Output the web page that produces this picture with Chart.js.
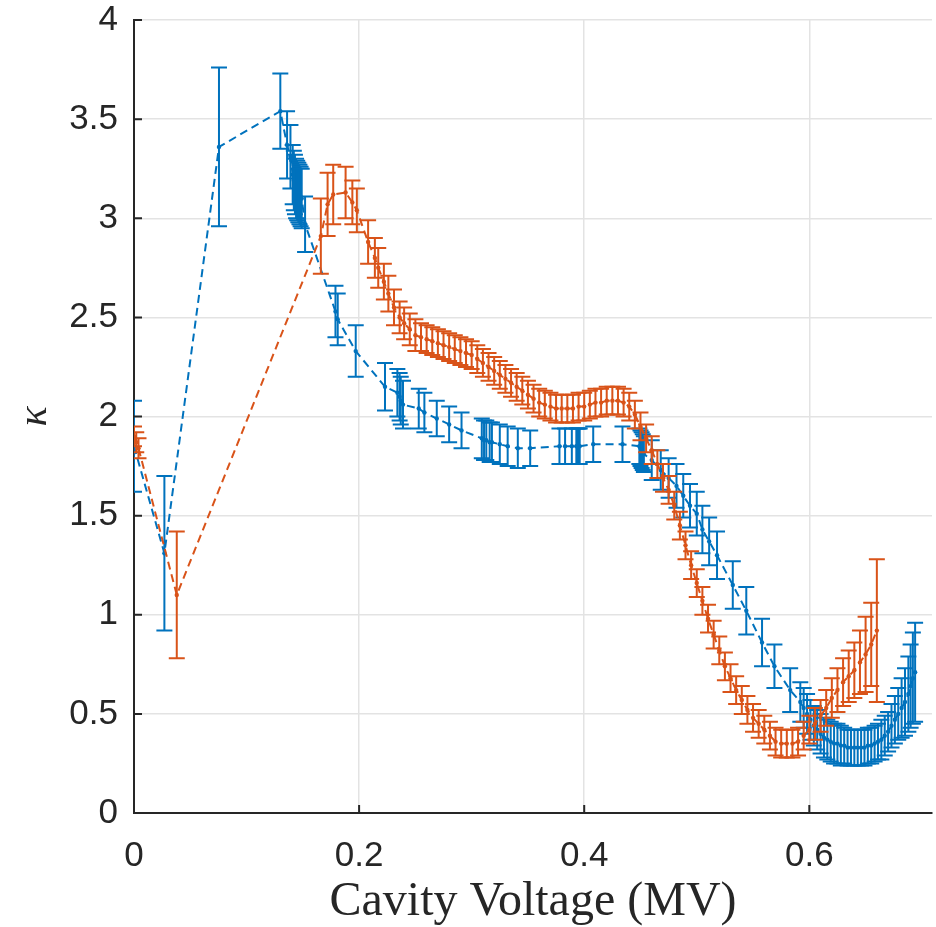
<!DOCTYPE html>
<html>
<head>
<meta charset="utf-8">
<script src="https://cdn.jsdelivr.net/npm/chart.js@4.4.1/dist/chart.umd.min.js"></script>
<style>
  html, body { margin: 0; padding: 0; background: #fff; }
</style>
</head>
<body>
<canvas id="kappaChart" width="936" height="927"></canvas>
<script>
// blue series (cavity 1)
const blueX = [0, 0.027, 0.0755, 0.130, 0.136, 0.139, 0.141, 0.142, 0.143, 0.144, 0.145, 0.146, 0.147, 0.148, 0.149, 0.152,
  0.179, 0.181, 0.197, 0.223, 0.234, 0.236, 0.237, 0.239, 0.253, 0.258, 0.269, 0.280, 0.291,
  0.309, 0.311, 0.313, 0.316, 0.318, 0.325, 0.332, 0.341, 0.352, 0.378, 0.383, 0.389, 0.393, 0.394, 0.395, 0.396,
  0.408, 0.434, 0.449, 0.450, 0.451, 0.452, 0.453, 0.460, 0.468, 0.475, 0.482, 0.488, 0.494, 0.500, 0.505, 0.511,
  0.518, 0.532, 0.544, 0.558, 0.569, 0.583, 0.592, 0.595,
  0.598, 0.601, 0.604, 0.607, 0.610, 0.613, 0.616, 0.619, 0.622, 0.625, 0.628, 0.631, 0.634, 0.637, 0.640, 0.643,
  0.646, 0.649, 0.652, 0.655, 0.658, 0.661, 0.664, 0.667, 0.670, 0.673, 0.676, 0.679, 0.682, 0.685, 0.688, 0.690,
  0.692, 0.694];
const blueY = [1.85, 1.31, 3.36, 3.54, 3.37, 3.31, 3.22, 3.19, 3.17, 3.15, 3.14, 3.13, 3.12, 3.11, 3.10, 2.97,
  2.53, 2.49, 2.33, 2.15, 2.12, 2.10, 2.08, 2.06, 2.04, 2.02, 1.99, 1.96, 1.93,
  1.89, 1.88, 1.88, 1.87, 1.87, 1.86, 1.85, 1.84, 1.84, 1.85, 1.85, 1.85, 1.85, 1.85, 1.85, 1.85,
  1.86, 1.86, 1.85, 1.84, 1.83, 1.82, 1.81, 1.78, 1.73, 1.69, 1.65, 1.60, 1.55, 1.51, 1.43, 1.37,
  1.30, 1.15, 1.02, 0.86, 0.74, 0.62, 0.56, 0.53,
  0.50, 0.47, 0.44, 0.42, 0.40, 0.38, 0.37, 0.36, 0.35, 0.35, 0.34, 0.34, 0.33, 0.33, 0.33, 0.33,
  0.33, 0.33, 0.34, 0.34, 0.35, 0.36, 0.37, 0.39, 0.41, 0.44, 0.47, 0.50, 0.53, 0.56, 0.60, 0.64,
  0.68, 0.71];
const blueErr = [0.23, 0.39, 0.40, 0.19, 0.17, 0.16, 0.15, 0.15, 0.15, 0.15, 0.15, 0.15, 0.15, 0.15, 0.15, 0.14,
  0.13, 0.13, 0.13, 0.12, 0.12, 0.12, 0.12, 0.12, 0.10, 0.10, 0.09, 0.09, 0.09,
  0.10, 0.10, 0.10, 0.10, 0.10, 0.10, 0.10, 0.10, 0.09, 0.09, 0.09, 0.09, 0.09, 0.09, 0.09, 0.09,
  0.09, 0.09, 0.09, 0.09, 0.09, 0.09, 0.09, 0.10, 0.10, 0.10, 0.11, 0.11, 0.11, 0.11, 0.12, 0.12,
  0.12, 0.12, 0.12, 0.12, 0.11, 0.11, 0.10, 0.10,
  0.10, 0.10, 0.10, 0.10, 0.10, 0.10, 0.10, 0.10, 0.10, 0.10, 0.10, 0.09, 0.09, 0.09, 0.09, 0.09,
  0.09, 0.09, 0.09, 0.09, 0.09, 0.09, 0.10, 0.10, 0.10, 0.11, 0.12, 0.13, 0.15, 0.17, 0.19, 0.21,
  0.23, 0.25];

// orange series (cavity 2)
const orangeX = [0.000, 0.002, 0.004, 0.038,
  0.166, 0.172, 0.177, 0.188, 0.194, 0.198, 0.208, 0.214, 0.217, 0.222, 0.226, 0.231, 0.236, 0.240, 0.245, 0.250,
  0.255, 0.260, 0.265, 0.270, 0.275, 0.280, 0.285, 0.290, 0.295, 0.300, 0.305, 0.310, 0.315, 0.320, 0.325, 0.330,
  0.335, 0.340, 0.345, 0.350, 0.355, 0.360, 0.365, 0.370, 0.375, 0.380, 0.385, 0.390, 0.395, 0.400, 0.405, 0.410,
  0.415, 0.420, 0.425, 0.430, 0.435, 0.440, 0.445, 0.450, 0.455, 0.460, 0.465, 0.470, 0.475, 0.480, 0.485, 0.490,
  0.495, 0.500, 0.505, 0.510, 0.515, 0.520, 0.525, 0.530, 0.535, 0.540, 0.545, 0.550, 0.555, 0.560, 0.565, 0.570,
  0.575, 0.580, 0.585, 0.590, 0.595, 0.600, 0.605, 0.610, 0.615, 0.620, 0.625, 0.630, 0.635, 0.640, 0.645, 0.650,
  0.655, 0.660];
const orangeY = [1.90, 1.87, 1.84, 1.10,
  2.91, 3.07, 3.12, 3.13, 3.08, 3.04, 2.88, 2.80, 2.75, 2.68, 2.62, 2.55, 2.50, 2.47, 2.44, 2.41,
  2.40, 2.39, 2.38, 2.37, 2.36, 2.35, 2.34, 2.33, 2.32, 2.31, 2.29, 2.27, 2.25, 2.23, 2.21, 2.19,
  2.17, 2.15, 2.13, 2.11, 2.09, 2.07, 2.06, 2.05, 2.04, 2.04, 2.04, 2.04, 2.05, 2.05, 2.06, 2.07,
  2.07, 2.08, 2.08, 2.08, 2.07, 2.05, 2.01, 1.95, 1.89, 1.83, 1.76, 1.69, 1.63, 1.55, 1.45, 1.35,
  1.25, 1.16, 1.07, 0.98, 0.90, 0.82, 0.74, 0.68, 0.62, 0.57, 0.52, 0.48, 0.45, 0.42, 0.39, 0.36,
  0.35, 0.35, 0.35, 0.36, 0.39, 0.42, 0.45, 0.49, 0.53, 0.58, 0.62, 0.66, 0.69, 0.72, 0.76, 0.80,
  0.85, 0.92];
const orangeErr = [0.05, 0.05, 0.05, 0.32,
  0.19, 0.16, 0.15, 0.13, 0.11, 0.11, 0.11, 0.10, 0.10, 0.09, 0.09, 0.09, 0.08, 0.08, 0.08, 0.08,
  0.07, 0.07, 0.07, 0.07, 0.07, 0.07, 0.07, 0.07, 0.07, 0.07, 0.07, 0.07, 0.07, 0.07, 0.07, 0.07,
  0.07, 0.07, 0.07, 0.07, 0.07, 0.07, 0.07, 0.07, 0.07, 0.07, 0.07, 0.07, 0.07, 0.07, 0.07, 0.07,
  0.07, 0.07, 0.07, 0.07, 0.07, 0.07, 0.07, 0.07, 0.07, 0.07, 0.07, 0.07, 0.07, 0.07, 0.07, 0.07,
  0.07, 0.07, 0.07, 0.07, 0.07, 0.07, 0.07, 0.07, 0.07, 0.07, 0.07, 0.07, 0.07, 0.07, 0.07, 0.07,
  0.07, 0.07, 0.07, 0.07, 0.07, 0.07, 0.08, 0.08, 0.09, 0.10, 0.11, 0.12, 0.13, 0.14, 0.16, 0.19,
  0.21, 0.36];

const xTicks = [0, 0.2, 0.4, 0.6];
const yTicks = [0, 0.5, 1, 1.5, 2, 2.5, 3, 3.5, 4];

const BLUE = '#0072BD';
const ORANGE = '#D95319';
const AXIS = '#262626';

const toPoints = (xs, ys) => xs.map((x, i) => ({ x: x, y: ys[i] }));

// vertical error bars with caps, drawn right after each dataset
const errorBars = {
  id: 'errorBars',
  afterDatasetDraw(chart, args) {
    const ds = chart.data.datasets[args.index];
    if (!ds.errors) return;
    const xs = chart.scales.x, ys = chart.scales.y, ctx = chart.ctx;
    const area = chart.chartArea;
    const cap = 8;
    ctx.save();
    ctx.beginPath();
    ctx.rect(area.left, area.top, area.right - area.left, area.bottom - area.top);
    ctx.clip();
    ctx.strokeStyle = ds.borderColor;
    ctx.lineWidth = 2;
    ds.data.forEach((p, i) => {
      const px = xs.getPixelForValue(p.x);
      const top = ys.getPixelForValue(p.y + ds.errors[i]);
      const bot = ys.getPixelForValue(p.y - ds.errors[i]);
      ctx.beginPath();
      ctx.moveTo(px, top); ctx.lineTo(px, bot);
      ctx.moveTo(px - cap, top); ctx.lineTo(px + cap, top);
      ctx.moveTo(px - cap, bot); ctx.lineTo(px + cap, bot);
      ctx.stroke();
    });
    ctx.restore();
  }
};

// MATLAB-style tick marks pointing into the plot
const innerTicks = {
  id: 'innerTicks',
  afterDraw(chart) {
    const xs = chart.scales.x, ys = chart.scales.y, ctx = chart.ctx;
    const area = chart.chartArea;
    const len = 8;
    ctx.save();
    ctx.strokeStyle = AXIS;
    ctx.lineWidth = 2;
    ctx.beginPath();
    xs.ticks.forEach(t => {
      const px = xs.getPixelForValue(t.value);
      ctx.moveTo(px, area.bottom); ctx.lineTo(px, area.bottom - len);
    });
    ys.ticks.forEach(t => {
      const py = ys.getPixelForValue(t.value);
      ctx.moveTo(area.left, py); ctx.lineTo(area.left + len, py);
    });
    ctx.stroke();
    ctx.restore();
  }
};

const ctx = document.getElementById('kappaChart').getContext('2d');
new Chart(ctx, {
  type: 'scatter',
  data: {
    datasets: [
      {
        label: 'blue',
        data: toPoints(blueX, blueY),
        errors: blueErr,
        borderColor: BLUE,
        backgroundColor: BLUE,
        showLine: true,
        borderWidth: 2,
        borderDash: [8, 5],
        pointRadius: 2.2,
        pointBorderWidth: 0,
        order: 2
      },
      {
        label: 'orange',
        data: toPoints(orangeX, orangeY),
        errors: orangeErr,
        borderColor: ORANGE,
        backgroundColor: ORANGE,
        showLine: true,
        borderWidth: 2,
        borderDash: [8, 5],
        pointRadius: 2.2,
        pointBorderWidth: 0,
        order: 1
      }
    ]
  },
  options: {
    responsive: false,
    animation: false,
    layout: { padding: { left: 0, right: 4, top: 20, bottom: 0 } },
    plugins: {
      legend: { display: false },
      tooltip: { enabled: false }
    },
    scales: {
      x: {
        type: 'linear',
        min: 0,
        max: 0.709,
        afterFit: s => { s.height = 114; s.paddingLeft = 0; s.paddingRight = 0; },
        afterBuildTicks: s => { s.ticks = xTicks.map(v => ({ value: v })); },
        ticks: {
          padding: 22,
          color: AXIS,
          font: { family: '"Liberation Sans", Arial, sans-serif', size: 35 },
          maxRotation: 0,
          callback: v => String(v)
        },
        grid: { color: '#e3e3e3', lineWidth: 1.5, drawTicks: false },
        border: { display: true, color: AXIS, width: 2 },
        title: {
          display: true,
          text: 'Cavity Voltage (MV)',
          color: AXIS,
          font: { family: '"Liberation Serif", "Times New Roman", serif', size: 48 },
          padding: { top: 0, bottom: -4 }
        }
      },
      y: {
        type: 'linear',
        min: 0,
        max: 4,
        afterFit: s => { s.width = 134; s.paddingTop = 0; s.paddingBottom = 0; },
        afterBuildTicks: s => { s.ticks = yTicks.map(v => ({ value: v })); },
        ticks: {
          padding: 16,
          color: AXIS,
          font: { family: '"Liberation Sans", Arial, sans-serif', size: 35 },
          callback: v => String(v)
        },
        grid: { color: '#e3e3e3', lineWidth: 1.5, drawTicks: false },
        border: { display: true, color: AXIS, width: 2 },
        title: {
          display: true,
          text: 'κ',
          color: AXIS,
          font: { family: '"Liberation Serif", "Times New Roman", serif', size: 42, style: 'italic' },
          padding: { top: 10, bottom: 0 }
        }
      }
    }
  },
  plugins: [errorBars, innerTicks]
});
</script>
</body>
</html>
